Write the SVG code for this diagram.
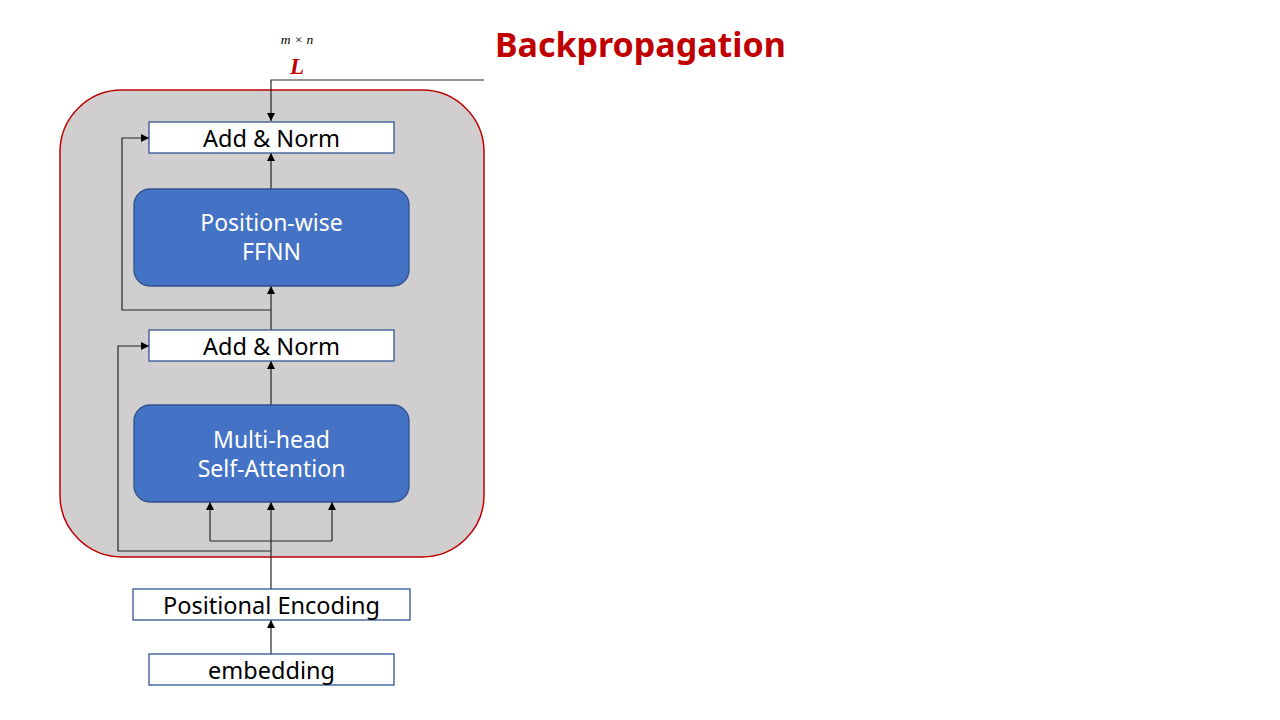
<svg xmlns="http://www.w3.org/2000/svg" width="1280" height="720" viewBox="0 0 1280 720">
<defs>
<marker id="arr" viewBox="0 0 10 10" refX="10" refY="5" markerWidth="8" markerHeight="8" markerUnits="userSpaceOnUse" orient="auto">
<path d="M0,0 L10,5 L0,10 z" fill="#000"/>
</marker>
</defs>
<style>
.box{fill:#fff;stroke:#2F5597;stroke-width:1.3}
.blue{fill:#4472C4;stroke:#2F528F;stroke-width:1.3}
.t{font-family:"Noto Sans","Open Sans",sans-serif;font-size:23.5px;text-anchor:middle;fill:#000}
.w{font-family:"Noto Sans","Open Sans",sans-serif;font-size:23px;text-anchor:middle;fill:#fff}
.c{fill:none;stroke:#262626;stroke-width:1.2}
</style>
<rect width="1280" height="720" fill="#fff"/>
<g id="container"><rect x="60" y="90" width="424" height="467" rx="62" ry="62" fill="#D0CECE" stroke="#C00000" stroke-width="1.5"/></g>
<g id="title"><text x="495" y="57" font-family="'Noto Sans','Open Sans',sans-serif" font-size="34" font-weight="bold" fill="#C00000">Backpropagation</text></g>
<g id="loss">
<text x="297" y="44" font-family="'Liberation Serif',serif" font-size="13.5" font-style="italic" text-anchor="middle" fill="#000">m × n</text>
<text x="297" y="74" font-family="'Liberation Serif',serif" font-size="23" font-style="italic" font-weight="bold" text-anchor="middle" fill="#C00000">L</text>
</g>
<g id="connectors">
<path class="c" d="M484,80 H271 V121" marker-end="url(#arr)"/>
<path class="c" d="M271,189 V153" marker-end="url(#arr)"/>
<path class="c" d="M271,330 V286" marker-end="url(#arr)"/>
<path class="c" d="M271,310 H122 V138 H149" marker-end="url(#arr)"/>
<path class="c" d="M271,405 V361" marker-end="url(#arr)"/>
<path class="c" d="M271,589 V502" marker-end="url(#arr)"/>
<path class="c" d="M210,541 V502" marker-end="url(#arr)"/>
<path class="c" d="M332,541 V502" marker-end="url(#arr)"/>
<path class="c" d="M210,541 H332"/>
<path class="c" d="M271,551 H118 V346 H149" marker-end="url(#arr)"/>
<path class="c" d="M271,654 V620" marker-end="url(#arr)"/>
</g>
<g id="addnorm2"><rect class="box" x="149" y="122" width="245" height="31"/><text class="t" x="271.5" y="146.5">Add &amp; Norm</text></g>
<g id="ffnn"><rect class="blue" x="134" y="189" width="275" height="97" rx="16"/><text class="w" x="271.5" y="231">Position-wise</text><text class="w" x="271.5" y="260">FFNN</text></g>
<g id="addnorm1"><rect class="box" x="149" y="330" width="245" height="31"/><text class="t" x="271.5" y="354.5">Add &amp; Norm</text></g>
<g id="mha"><rect class="blue" x="134" y="405" width="275" height="97" rx="16"/><text class="w" x="271.5" y="447.5">Multi-head</text><text class="w" x="271.5" y="476.5">Self-Attention</text></g>
<g id="posenc"><rect class="box" x="133" y="589" width="277" height="31"/><text class="t" x="271.5" y="613.5">Positional Encoding</text></g>
<g id="embedding"><rect class="box" x="149" y="654" width="245" height="31"/><text class="t" x="271.5" y="678.5">embedding</text></g>
</svg>
